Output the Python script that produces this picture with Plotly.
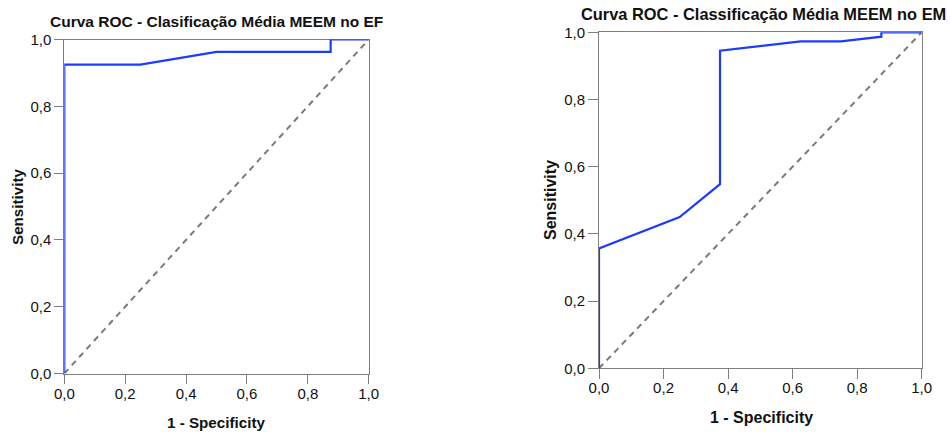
import plotly.graph_objects as go

# Data
ef_fpr = [0.0, 0.0, 0.25, 0.5, 0.875, 0.875, 1.0]
ef_tpr = [0.0, 0.925, 0.925, 0.963, 0.963, 1.0, 1.0]
em_fpr = [0.0, 0.0, 0.25, 0.375, 0.375, 0.625, 0.75, 0.875, 0.875, 1.0]
em_tpr = [0.0, 0.357, 0.45, 0.548, 0.945, 0.973, 0.973, 0.987, 1.0, 1.0]
ref_line = [0.0, 1.0]
tick_vals = [0.0, 0.2, 0.4, 0.6, 0.8, 1.0]
tick_text = ["0,0", "0,2", "0,4", "0,6", "0,8", "1,0"]
titles = ["Curva ROC - Clasificação Média MEEM no EF",
          "Curva ROC - Classificação Média MEEM no EM"]
x_title = "1 - Specificity"
y_title = "Sensitivity"

W, H = 951, 432
FONT = "Liberation Sans, Arial, sans-serif"
BLUE = "#1a3cff"
AX = "#7f7f7f"

fig = go.Figure()
for i, (fx, fy) in enumerate([(ef_fpr, ef_tpr), (em_fpr, em_tpr)]):
    xa = "x" if i == 0 else "x2"
    ya = "y" if i == 0 else "y2"
    fig.add_trace(go.Scatter(x=ref_line, y=ref_line, mode="lines", xaxis=xa, yaxis=ya,
                             line=dict(color="#7a7a7a", width=2, dash="6px,5px"),
                             showlegend=False, hoverinfo="skip"))
    fig.add_trace(go.Scatter(x=fx, y=fy, mode="lines", xaxis=xa, yaxis=ya,
                             line=dict(color=BLUE, width=2.2),
                             showlegend=False))

def px_x(p):
    return p / W

def px_y(p):
    return 1 - p / H

def axis(tlen, standoff):
    return dict(range=[0, 1], tickvals=tick_vals, ticktext=tick_text,
                showgrid=False, zeroline=False, showline=True, linecolor=AX,
                linewidth=1, mirror=True, ticks="outside", ticklen=tlen,
                tickcolor=AX, tickwidth=1, automargin=False, layer="below traces",
                ticklabelstandoff=standoff,
                tickfont=dict(family=FONT, size=15, color="#111111"))

fig.update_layout(
    width=W, height=H, margin=dict(l=0, r=0, t=0, b=0, autoexpand=False),
    paper_bgcolor="white", plot_bgcolor="white",
    xaxis=dict(domain=[px_x(64.3), px_x(368.7)], anchor="y", **axis(9, -3)),
    yaxis=dict(domain=[px_y(373.5), px_y(39.5)], anchor="x", **axis(9, 0)),
    xaxis2=dict(domain=[px_x(599), px_x(921.7)], anchor="y2", **axis(10, -4)),
    yaxis2=dict(domain=[px_y(368.3), px_y(32.3)], anchor="x2", **axis(10, 0)),
)

anns = [
    dict(text=f"<b>{titles[0]}</b>", x=px_x(216), y=px_y(21), size=15.5, angle=0),
    dict(text=f"<b>{titles[1]}</b>", x=px_x(763), y=px_y(14), size=16.4, angle=0),
    dict(text=f"<b>{x_title}</b>", x=px_x(216), y=px_y(422), size=15.2, angle=0),
    dict(text=f"<b>{x_title}</b>", x=px_x(761), y=px_y(417), size=16, angle=0),
    dict(text=f"<b>{y_title}</b>", x=px_x(17), y=px_y(207), size=15.2, angle=-90),
    dict(text=f"<b>{y_title}</b>", x=px_x(550), y=px_y(200), size=16, angle=-90),
]
for a in anns:
    fig.add_annotation(text=a["text"], x=a["x"], y=a["y"], xref="paper", yref="paper",
                       xanchor="center", yanchor="middle", showarrow=False,
                       textangle=a["angle"],
                       font=dict(family=FONT, size=a["size"], color="#111111"))

fig.write_html("out.html", config={"displayModeBar": False},
               post_script="document.body.style.margin='0px';document.body.style.overflow='hidden';")
